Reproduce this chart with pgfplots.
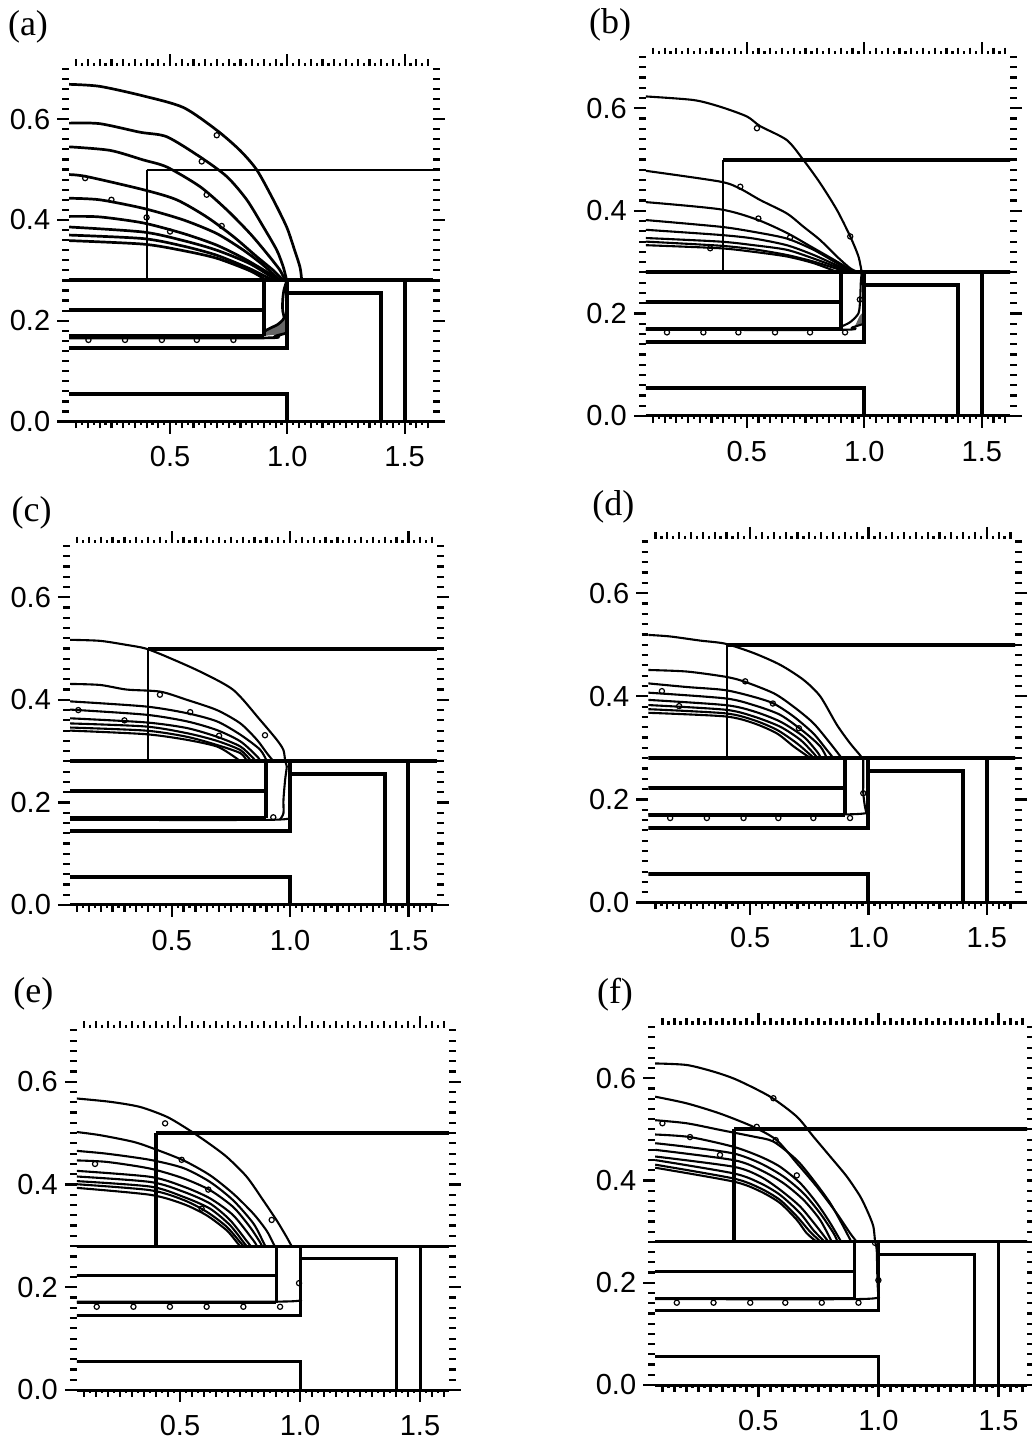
\documentclass[border=0pt]{standalone}
\usepackage{fontspec}
\setmainfont{Liberation Sans}
\newfontfamily\tms{Liberation Serif}
\usepackage{pgfplots}
\pgfplotsset{compat=1.18}
\pgfplotsset{
  panel/.style={
    scale only axis, anchor=south west,
    xmin=0.07, xmax=1.62, ymin=0, ymax=0.705,
    xtick={0.5,1,1.5}, minor xtick={0.1,0.15,...,1.61},
    ytick={0,0.2,0.4,0.6}, minor ytick={0.02,0.04,...,0.70},
    extra x ticks={0.125,0.175,...,1.6}, extra x tick labels={},
    extra x tick style={major tick length=1.6pt},
    tick align=outside, tick pos=both,
    xticklabel pos=left, yticklabel pos=left,
    major tick length=6pt, minor tick length=3.4pt,
    every tick/.style={black, line width=1.1pt},
    axis line style={draw=none},
    /pgf/number format/.cd, fixed, fixed zerofill, precision=1, assume math mode=true,
    /pgfplots/.cd,
    ticklabel style={font=\fontsize{14.5}{14.5}\selectfont},
    xticklabel style={yshift=-3pt},
    after end axis/.code={\draw[line width=1.5pt] (rel axis cs:0,0) -- (rel axis cs:1,0);},
  },
  cont/.style={black, line width=1.05pt, smooth, tension=0.45, mark=none},
  contA/.style={black, line width=1.35pt, smooth, tension=0.45, mark=none},
  gthick/.style={black, line width=2pt, mark=none},
  gmed/.style={black, line width=1.5pt, mark=none},
  gthin/.style={black, line width=1pt, mark=none},
  mk/.style={only marks, mark=o, mark size=1.3pt, black, mark options={line width=0.6pt}},
}
\newcommand{\geom}[3]{%
  \addplot[#3] coordinates {(0.4,0.5) (1.7,0.5)};
  \addplot[#2] coordinates {(0.4,0.28) (0.4,0.5)};
  \addplot[#1] coordinates {(0,0.28) (1.7,0.28)};
  \addplot[#1] coordinates {(0.9,0.28) (0.9,0.17)};
  \addplot[#1] coordinates {(0,0.222) (0.9,0.222)};
  \addplot[#1] coordinates {(0,0.17) (0.9,0.17)};
  \addplot[#1] coordinates {(0,0.145) (1.0,0.145) (1.0,0.28)};
  \addplot[#1] coordinates {(1.0,0.255) (1.4,0.255) (1.4,0)};
  \addplot[#1] coordinates {(1.5,0.28) (1.5,0)};
  \addplot[#1] coordinates {(0,0.055) (1.0,0.055) (1.0,0)};
}
\begin{document}
\begin{tikzpicture}
\path[use as bounding box] (0,0) rectangle (516pt,720.5pt);
% ---------------- (a)
\begin{axis}[panel, at={(34.6pt,509.7pt)}, width=181.8pt, height=177.7pt]
\addplot[fill=black!60, draw=none] coordinates {(0.9,0.17) (1.0,0.175) (1.0,0.215) (0.985,0.205) (0.96,0.193) (0.93,0.186) (0.905,0.18)} -- cycle;
\geom{gthick}{gthin}{gthin}
\addplot[contA] coordinates {(0.07,0.669) (0.2,0.665) (0.386,0.646) (0.557,0.623) (0.699,0.578) (0.798,0.538) (0.87,0.499) (0.94,0.44) (0.997,0.386) (1.026,0.347) (1.054,0.306) (1.061,0.28)};
\addplot[contA] coordinates {(0.07,0.592) (0.2,0.591) (0.372,0.574) (0.486,0.565) (0.628,0.525) (0.742,0.486) (0.827,0.44) (0.898,0.386) (0.955,0.34) (0.983,0.306) (0.997,0.28)};
\addplot[contA] coordinates {(0.07,0.545) (0.244,0.538) (0.386,0.519) (0.486,0.505) (0.628,0.466) (0.742,0.42) (0.841,0.373) (0.912,0.334) (0.969,0.3) (0.99,0.28)};
\addplot[contA] coordinates {(0.07,0.49) (0.145,0.486) (0.386,0.46) (0.528,0.44) (0.656,0.406) (0.77,0.367) (0.87,0.327) (0.94,0.3) (0.983,0.28)};
\addplot[contA] coordinates {(0.07,0.443) (0.2,0.44) (0.386,0.423) (0.557,0.4) (0.699,0.373) (0.813,0.34) (0.898,0.31) (0.969,0.28)};
\addplot[contA] coordinates {(0.07,0.407) (0.2,0.406) (0.386,0.394) (0.557,0.373) (0.699,0.35) (0.813,0.324) (0.912,0.297) (0.969,0.28)};
\addplot[contA] coordinates {(0.07,0.386) (0.386,0.376) (0.557,0.359) (0.699,0.34) (0.841,0.313) (0.955,0.28)};
\addplot[contA] coordinates {(0.07,0.37) (0.386,0.363) (0.557,0.348) (0.699,0.33) (0.841,0.303) (0.94,0.28)};
\addplot[contA] coordinates {(0.07,0.359) (0.386,0.352) (0.557,0.339) (0.699,0.324) (0.841,0.299) (0.912,0.28)};
\addplot[contA] coordinates {(0.998,0.28) (0.985,0.26) (0.98,0.24) (0.98,0.22) (0.985,0.205) (0.96,0.193) (0.93,0.186) (0.905,0.18)};
\addplot[contA] coordinates {(0.07,0.166) (0.9,0.166) (0.95,0.17) (1.0,0.176)};
\addplot[mk] coordinates {(0.152,0.162) (0.308,0.162) (0.465,0.162) (0.614,0.162) (0.77,0.162) (0.699,0.568) (0.635,0.516) (0.656,0.45) (0.72,0.388) (0.138,0.483) (0.25,0.44) (0.4,0.405) (0.5,0.377)};
\end{axis}
% ---------------- (b)
\begin{axis}[panel, at={(322.9pt,512.5pt)}, width=182.1pt, height=180.8pt]
\addplot[fill=black!60, draw=none] coordinates {(0.96,0.175) (1.0,0.18) (1.0,0.205) (0.98,0.195)} -- cycle;
\geom{gthick}{gthin}{gthick}
\addplot[cont] coordinates {(0.07,0.623) (0.273,0.616) (0.386,0.603) (0.5,0.584) (0.557,0.565) (0.67,0.538) (0.741,0.499) (0.812,0.454) (0.883,0.402) (0.94,0.35) (0.975,0.311) (0.989,0.28)};
\addplot[cont] coordinates {(0.07,0.478) (0.386,0.457) (0.472,0.443) (0.557,0.421) (0.67,0.395) (0.741,0.369) (0.812,0.343) (0.883,0.311) (0.94,0.288) (0.975,0.28)};
\addplot[cont] coordinates {(0.07,0.417) (0.386,0.403) (0.543,0.383) (0.67,0.357) (0.77,0.331) (0.869,0.305) (0.954,0.282)};
\addplot[cont] coordinates {(0.07,0.382) (0.386,0.369) (0.529,0.359) (0.67,0.346) (0.784,0.324) (0.883,0.298) (0.954,0.281)};
\addplot[cont] coordinates {(0.07,0.363) (0.386,0.353) (0.529,0.346) (0.67,0.333) (0.784,0.314) (0.897,0.291) (0.968,0.28)};
\addplot[cont] coordinates {(0.07,0.347) (0.386,0.34) (0.529,0.333) (0.67,0.324) (0.784,0.307) (0.897,0.288) (0.95,0.28)};
\addplot[cont] coordinates {(0.07,0.34) (0.386,0.332) (0.529,0.325) (0.67,0.314) (0.784,0.301) (0.897,0.285) (0.93,0.28)};
\addplot[cont] coordinates {(0.07,0.333) (0.386,0.327) (0.529,0.32) (0.67,0.311) (0.784,0.298) (0.883,0.281)};
\addplot[cont] coordinates {(0.989,0.28) (0.985,0.26) (0.982,0.226) (0.975,0.2) (0.94,0.183) (0.9,0.174)};
\addplot[cont] coordinates {(0.07,0.168) (0.9,0.168) (0.95,0.173) (1.0,0.18)};
\addplot[mk] coordinates {(0.16,0.163) (0.315,0.163) (0.464,0.163) (0.62,0.163) (0.769,0.163) (0.918,0.163) (0.543,0.561) (0.472,0.447) (0.549,0.385) (0.684,0.348) (0.344,0.327) (0.94,0.35) (0.981,0.227)};
\end{axis}
% ---------------- (c)
\begin{axis}[panel, at={(35pt,268pt)}, width=183.4pt, height=180.8pt]
\geom{gthick}{gthin}{gthick}
\addplot[cont] coordinates {(0.07,0.517) (0.197,0.515) (0.31,0.507) (0.39,0.5) (0.479,0.484) (0.62,0.455) (0.761,0.419) (0.873,0.361) (0.944,0.322) (0.972,0.302) (0.979,0.28)};
\addplot[cont] coordinates {(0.07,0.431) (0.197,0.429) (0.31,0.42) (0.451,0.416) (0.564,0.4) (0.691,0.38) (0.79,0.354) (0.86,0.322) (0.902,0.296) (0.93,0.28)};
\addplot[cont] coordinates {(0.07,0.397) (0.39,0.387) (0.564,0.374) (0.691,0.358) (0.79,0.332) (0.873,0.303) (0.902,0.28)};
\addplot[cont] coordinates {(0.07,0.381) (0.39,0.371) (0.564,0.358) (0.691,0.341) (0.79,0.319) (0.86,0.29) (0.875,0.28)};
\addplot[cont] coordinates {(0.07,0.364) (0.39,0.356) (0.564,0.345) (0.691,0.328) (0.79,0.309) (0.845,0.286) (0.855,0.28)};
\addplot[cont] coordinates {(0.07,0.354) (0.39,0.348) (0.564,0.335) (0.691,0.32) (0.79,0.302) (0.831,0.283)};
\addplot[cont] coordinates {(0.07,0.346) (0.39,0.34) (0.564,0.328) (0.691,0.312) (0.79,0.296) (0.817,0.281)};
\addplot[cont] coordinates {(0.07,0.34) (0.39,0.333) (0.564,0.322) (0.691,0.309) (0.761,0.29) (0.79,0.28)};
\addplot[cont] coordinates {(0.979,0.28) (0.986,0.27) (0.979,0.244) (0.972,0.205) (0.972,0.179) (0.958,0.167)};
\addplot[cont] coordinates {(0.07,0.166) (0.9,0.166) (1.0,0.17)};
\addplot[mk] coordinates {(0.929,0.171) (0.45,0.41) (0.578,0.376) (0.105,0.38) (0.894,0.331) (0.3,0.36) (0.7,0.33)};
\end{axis}
% ---------------- (d)
\begin{axis}[panel, at={(324.2pt,269.2pt)}, width=183.4pt, height=181.8pt]
\geom{gthick}{gthin}{gthick}
\addplot[cont] coordinates {(0.07,0.519) (0.162,0.516) (0.289,0.508) (0.394,0.502) (0.514,0.484) (0.627,0.461) (0.725,0.432) (0.796,0.4) (0.866,0.345) (0.922,0.309) (0.964,0.286) (0.978,0.277)};
\addplot[cont] coordinates {(0.07,0.451) (0.232,0.448) (0.394,0.438) (0.472,0.429) (0.599,0.406) (0.683,0.38) (0.767,0.348) (0.838,0.309) (0.887,0.28)};
\addplot[cont] coordinates {(0.07,0.425) (0.232,0.418) (0.394,0.412) (0.514,0.399) (0.599,0.386) (0.683,0.361) (0.767,0.328) (0.824,0.296) (0.852,0.28)};
\addplot[cont] coordinates {(0.07,0.407) (0.394,0.396) (0.514,0.383) (0.627,0.364) (0.725,0.332) (0.796,0.303) (0.824,0.28)};
\addplot[cont] coordinates {(0.07,0.393) (0.394,0.383) (0.514,0.371) (0.627,0.351) (0.725,0.322) (0.782,0.293) (0.8,0.28)};
\addplot[cont] coordinates {(0.07,0.383) (0.394,0.374) (0.514,0.361) (0.627,0.341) (0.711,0.316) (0.767,0.29) (0.785,0.28)};
\addplot[cont] coordinates {(0.07,0.375) (0.394,0.367) (0.514,0.354) (0.613,0.335) (0.697,0.309) (0.753,0.287) (0.77,0.28)};
\addplot[cont] coordinates {(0.07,0.368) (0.394,0.361) (0.514,0.348) (0.613,0.328) (0.683,0.303) (0.739,0.285) (0.755,0.28)};
\addplot[cont] coordinates {(0.978,0.277) (0.978,0.264) (0.978,0.238) (0.978,0.212) (0.985,0.186) (0.992,0.173)};
\addplot[cont] coordinates {(0.07,0.171) (0.9,0.171) (1.0,0.176)};
\addplot[mk] coordinates {(0.162,0.164) (0.317,0.164) (0.472,0.164) (0.619,0.164) (0.767,0.164) (0.922,0.164) (0.479,0.429) (0.127,0.41) (0.596,0.386) (0.2,0.381) (0.706,0.338) (0.978,0.212)};
\end{axis}
% ---------------- (e)
\begin{axis}[panel, at={(38.4pt,25.5pt)}, width=186pt, height=181.1pt]
\geom{gmed}{gthick}{gthick}
\addplot[cont] coordinates {(0.055,0.568) (0.208,0.561) (0.333,0.551) (0.444,0.532) (0.528,0.509) (0.611,0.483) (0.694,0.454) (0.778,0.415) (0.847,0.369) (0.903,0.33) (0.944,0.298) (0.965,0.28)};
\addplot[cont] coordinates {(0.055,0.503) (0.167,0.496) (0.306,0.483) (0.389,0.47) (0.514,0.447) (0.625,0.418) (0.722,0.382) (0.806,0.343) (0.861,0.31) (0.889,0.285) (0.895,0.28)};
\addplot[cont] coordinates {(0.055,0.466) (0.194,0.46) (0.375,0.448) (0.514,0.432) (0.625,0.405) (0.722,0.369) (0.806,0.324) (0.847,0.288) (0.855,0.28)};
\addplot[cont] coordinates {(0.055,0.447) (0.194,0.444) (0.375,0.431) (0.514,0.412) (0.625,0.389) (0.722,0.356) (0.792,0.317) (0.833,0.288) (0.842,0.28)};
\addplot[cont] coordinates {(0.055,0.427) (0.375,0.415) (0.514,0.396) (0.625,0.373) (0.722,0.34) (0.806,0.291) (0.82,0.28)};
\addplot[cont] coordinates {(0.055,0.416) (0.375,0.405) (0.514,0.386) (0.625,0.363) (0.708,0.331) (0.778,0.29) (0.795,0.28)};
\addplot[cont] coordinates {(0.055,0.407) (0.375,0.396) (0.514,0.376) (0.625,0.353) (0.708,0.321) (0.764,0.288) (0.778,0.28)};
\addplot[cont] coordinates {(0.055,0.401) (0.375,0.389) (0.514,0.37) (0.611,0.347) (0.694,0.318) (0.75,0.288) (0.765,0.28)};
\addplot[cont] coordinates {(0.055,0.394) (0.375,0.38) (0.514,0.362) (0.611,0.34) (0.694,0.311) (0.736,0.288) (0.75,0.28)};
\addplot[cont] coordinates {(0.055,0.172) (0.9,0.172) (1.0,0.175)};
\addplot[mk] coordinates {(0.153,0.162) (0.306,0.162) (0.458,0.162) (0.611,0.162) (0.764,0.162) (0.917,0.162) (0.438,0.519) (0.507,0.448) (0.146,0.44) (0.618,0.39) (0.59,0.353) (0.882,0.331) (0.996,0.208)};
\end{axis}
% ---------------- (f)
\begin{axis}[panel, at={(327.6pt,28pt)}, width=186pt, height=180.2pt]
\geom{gmed}{gthick}{gthick}
\addplot[cont] coordinates {(0.07,0.629) (0.201,0.626) (0.313,0.613) (0.41,0.597) (0.549,0.564) (0.66,0.525) (0.729,0.486) (0.799,0.447) (0.868,0.408) (0.924,0.369) (0.958,0.336) (0.979,0.31) (0.986,0.28)};
\addplot[cont] coordinates {(0.07,0.564) (0.201,0.551) (0.34,0.531) (0.479,0.505) (0.576,0.479) (0.66,0.434) (0.743,0.388) (0.826,0.336) (0.882,0.297) (0.91,0.28)};
\addplot[cont] coordinates {(0.07,0.518) (0.201,0.512) (0.34,0.499) (0.479,0.486) (0.563,0.476) (0.66,0.44) (0.729,0.401) (0.799,0.356) (0.854,0.31) (0.887,0.28)};
\addplot[cont] coordinates {(0.07,0.49) (0.215,0.485) (0.396,0.466) (0.507,0.447) (0.59,0.427) (0.674,0.395) (0.743,0.356) (0.799,0.317) (0.845,0.28)};
\addplot[cont] coordinates {(0.07,0.473) (0.201,0.466) (0.396,0.453) (0.507,0.434) (0.604,0.408) (0.688,0.375) (0.757,0.336) (0.813,0.297) (0.83,0.28)};
\addplot[cont] coordinates {(0.07,0.46) (0.396,0.44) (0.507,0.421) (0.604,0.395) (0.688,0.362) (0.757,0.323) (0.806,0.28)};
\addplot[cont] coordinates {(0.07,0.447) (0.396,0.427) (0.507,0.408) (0.59,0.382) (0.674,0.349) (0.743,0.31) (0.792,0.28)};
\addplot[cont] coordinates {(0.07,0.44) (0.396,0.414) (0.507,0.395) (0.59,0.372) (0.674,0.336) (0.729,0.303) (0.777,0.28)};
\addplot[cont] coordinates {(0.07,0.431) (0.396,0.404) (0.507,0.385) (0.59,0.362) (0.66,0.33) (0.715,0.3) (0.76,0.28)};
\addplot[cont] coordinates {(0.07,0.425) (0.396,0.398) (0.507,0.379) (0.59,0.356) (0.66,0.323) (0.701,0.297) (0.743,0.28)};
\addplot[cont] coordinates {(0.986,0.28) (0.993,0.264) (0.996,0.205) (1.0,0.172)};
\addplot[cont] coordinates {(0.07,0.168) (0.9,0.168) (1.0,0.172)};
\addplot[mk] coordinates {(0.16,0.161) (0.313,0.161) (0.466,0.161) (0.612,0.161) (0.764,0.161) (0.917,0.161) (0.5625,0.561) (0.493,0.505) (0.572,0.479) (0.1,0.512) (0.215,0.485) (0.34,0.45) (0.66,0.41) (0.986,0.278) (1.0,0.205)};
\end{axis}
% panel labels
\node[font=\tms\fontsize{18}{18}\selectfont] at (14pt,707pt) {(a)};
\node[font=\tms\fontsize{18}{18}\selectfont] at (305pt,708pt) {(b)};
\node[font=\tms\fontsize{18}{18}\selectfont] at (15.8pt,464pt) {(c)};
\node[font=\tms\fontsize{18}{18}\selectfont] at (306.7pt,467.2pt) {(d)};
\node[font=\tms\fontsize{18}{18}\selectfont] at (16.7pt,223.8pt) {(e)};
\node[font=\tms\fontsize{18}{18}\selectfont] at (307.5pt,223pt) {(f)};
\end{tikzpicture}
\end{document}
